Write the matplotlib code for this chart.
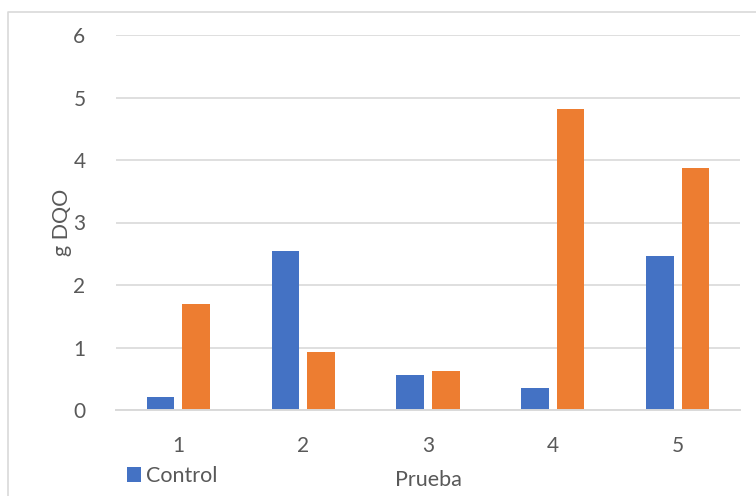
import matplotlib
matplotlib.use("Agg")
import matplotlib.pyplot as plt
import numpy as np
from matplotlib.lines import Line2D
from matplotlib.patches import Patch

categories = ["1", "2", "3", "4", "5"]
control = [0.21, 2.55, 0.56, 0.36, 2.47]
other = [1.70, 0.93, 0.62, 4.82, 3.87]
yticks = [0, 1, 2, 3, 4, 5, 6]

BLUE = "#4472C4"
ORANGE = "#ED7D31"
GRID = "#D9D9D9"
TXT = "#595959"

plt.rcParams['font.family'] = ['Lato', 'DejaVu Sans']

fig = plt.figure(figsize=(7.56, 4.96), dpi=100)
ax = fig.add_axes([116/756, 1-410/496, (740-116)/756, (410-35)/496])

x = np.arange(1, len(categories) + 1)
w = 0.222
off = 0.143
ax.bar(x - off, control, w, color=BLUE, zorder=3)
ax.bar(x + off, other, w, color=ORANGE, zorder=3)

ax.set_xlim(0.5, 5.5)
ax.set_ylim(0, 6)
ax.set_yticks(yticks)
ax.set_xticks(x)
ax.set_xticklabels(categories)
ax.yaxis.grid(True, color=GRID, linewidth=1.2, zorder=0)
for s in ["top", "right", "left"]:
    ax.spines[s].set_visible(False)
ax.spines["bottom"].set_color(GRID)
ax.spines["bottom"].set_linewidth(1.4)
ax.spines["bottom"].set_zorder(4)
ax.tick_params(axis="both", length=0, labelsize=15, colors=TXT)
ax.tick_params(axis="y", pad=22)
ax.tick_params(axis="x", pad=19)
ax.set_ylabel("g DQO", fontsize=15.5, color=TXT, labelpad=1)
ax.set_xlabel("Prueba", fontsize=15.5, color=TXT, labelpad=10)

leg = fig.legend(handles=[Patch(facecolor=BLUE)], labels=["Control"],
                 loc="center left", bbox_to_anchor=(127/756, 1-476/496),
                 frameon=False, fontsize=15.5, handlelength=0.65, handleheight=0.65,
                 handletextpad=0.25, borderpad=0, borderaxespad=0)
for t in leg.get_texts():
    t.set_color(TXT)

fig.add_artist(Line2D([8/756, 8/756, 1.0], [0.0, 1-12/496, 1-12/496],
                      transform=fig.transFigure, color=GRID, linewidth=1.2))

fig.savefig("out.png", dpi=100)
